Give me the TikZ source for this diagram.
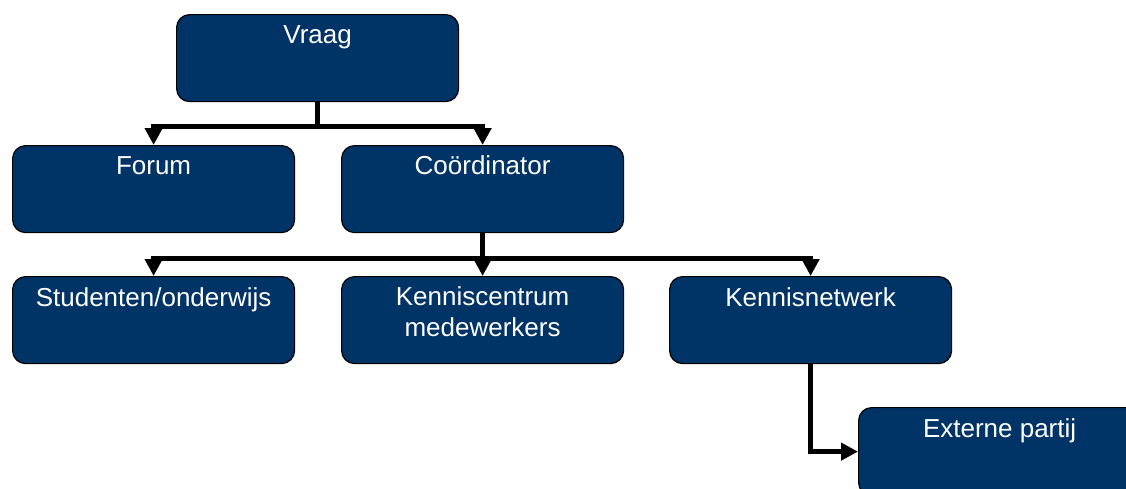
\documentclass[tikz,border=0pt]{standalone}
\usepackage{fontspec}
\setmainfont{Liberation Sans}
\usetikzlibrary{arrows.meta,calc}
\definecolor{boxblue}{RGB}{0,51,102}
\tikzset{
  box/.style={draw=black, line width=1.2pt, fill=boxblue, rounded corners=13pt,
    minimum width=282pt, minimum height=87pt, inner sep=0pt, anchor=north west},
  lbl/.style={text=white, font=\fontsize{26}{31}\selectfont, align=center, anchor=base, inner sep=0pt},
  conn/.style={line width=5pt, -{Triangle[width=17pt,length=17pt]}}
}
\begin{document}
\begin{tikzpicture}[x=1pt,y=-1pt]
\useasboundingbox (0,0) rectangle (1126,488);
\clip (0,0) rectangle (1126,488);
\node[box] (vraag) at (176,14) {};
\node[box] (forum) at (12,145) {};
\node[box] (coord) at (341,145) {};
\node[box] (stud) at (12,276) {};
\node[box] (kc) at (341,276) {};
\node[box] (kn) at (669,276) {};
\node[box,minimum height=88pt] (ext) at (858,407) {};

\node[lbl] (tv) at ($(vraag.north)+(0,29)$) {Vraag};
\node[lbl] (tf) at ($(forum.north)+(0,29)$) {Forum};
\node[lbl] (tc) at ($(coord.north)+(0,29)$) {Coördinator};
\node[lbl] (ts) at ($(stud.north)+(0,30)$) {Studenten/onderwijs};
\node[lbl,anchor=north] (tk) at ($(kc.north)+(0,10)$) {Kenniscentrum\\medewerkers};
\node[lbl] (tn) at ($(kn.north)+(0,30)$) {Kennisnetwerk};
\node[lbl] (te) at ($(ext.north)+(0,30)$) {Externe partij};

\coordinate (j1) at ($(vraag.south)+(0,24)$);
\draw[conn] (vraag.south) -- (j1) -| (forum.north);
\draw[conn] (j1) -| (coord.north);
\coordinate (j2) at ($(coord.south)+(0,25)$);
\draw[conn] (coord.south) -- (j2) -| (stud.north);
\draw[conn] (j2) -- (kc.north);
\draw[conn] (j2) -| (kn.north);
\draw[conn] (kn.south) |- (ext.west);
\end{tikzpicture}
\end{document}
